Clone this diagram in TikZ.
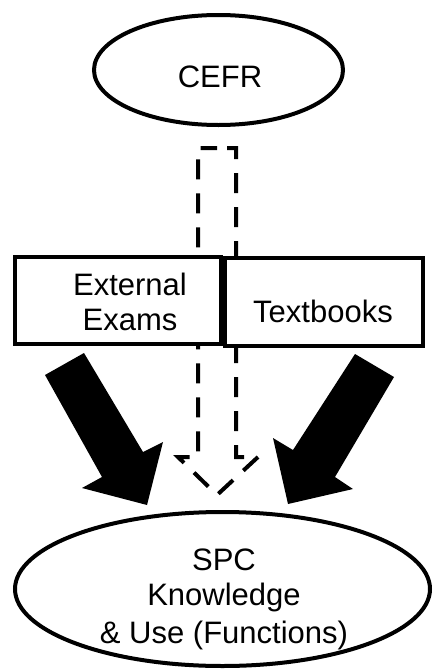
\documentclass[tikz,border=0pt]{standalone}
\usepackage{fontspec}
\setmainfont{Liberation Sans}
\usetikzlibrary{shapes.geometric}
\begin{document}
\begin{tikzpicture}[x=1pt, y=-1pt, line join=miter,
  oval/.style={ellipse, draw, line width=4pt, inner sep=0pt},
  panel/.style={rectangle, draw, fill=white, line width=4pt, inner sep=0pt},
  lbl/.style={font=\fontsize{31}{37}\selectfont, anchor=base, inner sep=0pt},
  hint/.style={draw, line width=4pt, dash pattern=on 20pt off 14pt, dash phase=24pt},
  push/.style={fill=black}]
\useasboundingbox (0,0) rectangle (433,672);

% framework at the top and outcome at the bottom
\node[oval, minimum width=249pt, minimum height=110pt] (cefr) at (218.5,70) {};
\node[oval, minimum width=415pt, minimum height=154pt] (spc) at (222.5,589) {};

% dashed (indirect) influence of the framework
\coordinate (hintTop) at (217,148);
\coordinate (hintTip) at (217,495);
\draw[hint] (hintTop) -- (236,148) -- (236,457) -- (258,457) -- (hintTip)
  -- (178,457) -- (198,457) -- (198,148) -- cycle;

% the two intermediate sources
\node[panel, minimum width=206pt, minimum height=87pt] (exams) at (118,300.5) {};
\node[panel, minimum width=198pt, minimum height=88pt] (books) at (324,302) {};

% direct influences
\fill[push] (45,375) -- (84,353) -- (143,452) -- (163,442) -- (147,505)
  -- (82,488) -- (102,477) -- cycle;
\fill[push] (355,354) -- (394,377) -- (335,477) -- (353,489) -- (288,504)
  -- (273,438) -- (293,450) -- cycle;

% texts
\node[lbl] (tCefr) at (220,87) {CEFR};
\node[lbl] (tExt) at (130,295) {External};
\node[lbl] (tExa) at (130,330) {Exams};
\node[lbl] (tBooks) at (323,322) {Textbooks};
\node[lbl] (tSpc) at (224,570) {SPC};
\node[lbl] (tKnow) at (224,605) {Knowledge};
\node[lbl] (tUse) at (224,643) {\& Use (Functions)};
\end{tikzpicture}
\end{document}
